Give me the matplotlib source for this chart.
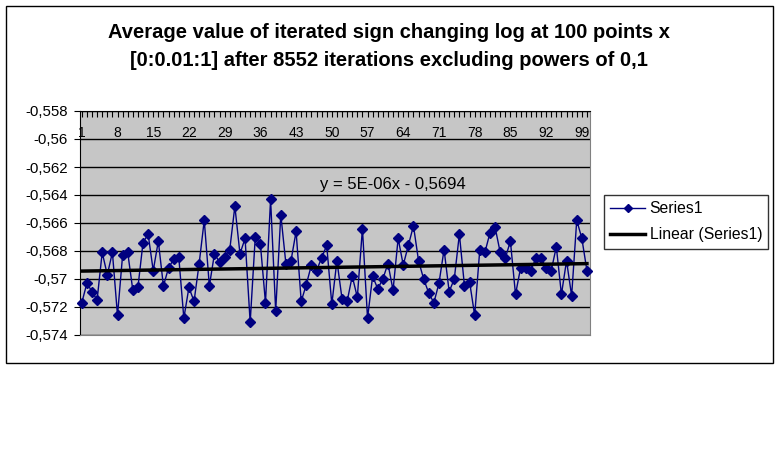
import numpy as np
import matplotlib
matplotlib.use("Agg")
import matplotlib.pyplot as plt
from matplotlib.patches import Rectangle
from matplotlib.lines import Line2D
from matplotlib.ticker import FuncFormatter

plt.rcParams['font.family'] = ['Liberation Sans', 'DejaVu Sans']

title_lines = ["Average value of iterated sign changing log at 100 points x",
               "[0:0.01:1] after 8552 iterations excluding powers of 0,1"]
series_name = "Series1"
trend_name = "Linear (Series1)"
trend_label = "y = 5E-06x - 0,5694"

points = list(range(1, 101))
values = [
    -0.5717, -0.5703, -0.5709, -0.5715, -0.5681, -0.5697, -0.5681, -0.5726, -0.5683, -0.5681,
    -0.5708, -0.5706, -0.5674, -0.5668, -0.5694, -0.5673, -0.5705, -0.5692, -0.5686, -0.5684,
    -0.5728, -0.5706, -0.5716, -0.5689, -0.5658, -0.5705, -0.5682, -0.5688, -0.5684, -0.5679,
    -0.5648, -0.5682, -0.5671, -0.5731, -0.5670, -0.5675, -0.5717, -0.5643, -0.5723, -0.5654,
    -0.5689, -0.5687, -0.5666, -0.5716, -0.5704, -0.5690, -0.5694, -0.5685, -0.5676, -0.5718,
    -0.5687, -0.5714, -0.5716, -0.5698, -0.5713, -0.5664, -0.5728, -0.5698, -0.5707, -0.5700,
    -0.5689, -0.5708, -0.5671, -0.5690, -0.5676, -0.5662, -0.5687, -0.5700, -0.5710, -0.5717,
    -0.5703, -0.5679, -0.5709, -0.5700, -0.5668, -0.5705, -0.5702, -0.5726, -0.5679, -0.5681,
    -0.5667, -0.5663, -0.5681, -0.5685, -0.5673, -0.5711, -0.5692, -0.5692, -0.5694, -0.5685,
    -0.5685, -0.5692, -0.5694, -0.5677, -0.5711, -0.5687, -0.5712, -0.5658, -0.5671, -0.5694,
]
y_ticks = [-0.574, -0.572, -0.570, -0.568, -0.566, -0.564, -0.562, -0.560, -0.558]
x_label_ticks = list(range(1, 100, 7))

W, H = 781, 450
fig = plt.figure(figsize=(W / 100, H / 100), dpi=100)
fig.patch.set_facecolor('white')

# chart border
fig.patches.append(Rectangle((6 / W, 1 - 363 / H), 767 / W, 357 / H, transform=fig.transFigure,
                             fill=False, edgecolor='black', linewidth=1.0, zorder=0))

ax = fig.add_axes([80 / W, 1 - 335 / H, 510 / W, 224 / H])
ax.set_facecolor('#C6C6C6')

x = np.array(points, dtype=float)
y = np.array(values)
ax.plot(x, y, color='#000080', linewidth=1.0, marker='D', markersize=5,
        markerfacecolor='#000080', markeredgecolor='#000080', zorder=3, clip_on=False)

coef = np.polyfit(x, y, 1)
ax.plot(x, np.polyval(coef, x), color='black', linewidth=2.5, zorder=4)

ax.set_xlim(0.65, 100.6)
ax.set_ylim(-0.574, -0.558)
ax.set_yticks(y_ticks)
ax.yaxis.set_major_formatter(FuncFormatter(lambda v, p: ('%g' % round(v, 3)).replace('.', ',')))
ax.grid(axis='y', color='black', linewidth=1.0)
ax.set_axisbelow(True)

ax.xaxis.set_ticks_position('top')
ax.set_xticks(points, minor=True)
ax.set_xticks(x_label_ticks)
ax.tick_params(axis='x', which='both', direction='in', length=4, width=0.8, top=True, bottom=False,
               labeltop=True, labelbottom=False, pad=-21, labelsize=10)
ax.tick_params(axis='y', direction='out', length=4, width=0.8, labelsize=10.8, pad=5)

for s in ['right', 'bottom']:
    ax.spines[s].set_color('#808080')
    ax.spines[s].set_linewidth(0.8)
ax.spines['left'].set_color('black')
ax.spines['top'].set_color('black')

ax.text(240 / 510, 1 - 73 / 224, trend_label, transform=ax.transAxes, fontsize=12,
        ha='left', va='center')

fig.text(389 / W, 1 - 32 / H, title_lines[0], ha='center', va='center', fontsize=14.5,
         fontweight='bold')
fig.text(389 / W, 1 - 60 / H, title_lines[1], ha='center', va='center', fontsize=14.5,
         fontweight='bold')

handles = [Line2D([0], [0], color='#000080', linewidth=1.0, marker='D', markersize=4,
                  markerfacecolor='#000080'),
           Line2D([0], [0], color='black', linewidth=2.5)]
leg = fig.legend(handles, [series_name, trend_name], loc='upper left',
                 bbox_to_anchor=(604 / W, 1 - 195 / H), fontsize=11.3, frameon=True,
                 fancybox=False, edgecolor='black', handlelength=2.2, handletextpad=0.3,
                 borderpad=0.4, labelspacing=0.7, borderaxespad=0)
leg.get_frame().set_linewidth(1.0)

fig.savefig('out.png', dpi=100, facecolor='white')
